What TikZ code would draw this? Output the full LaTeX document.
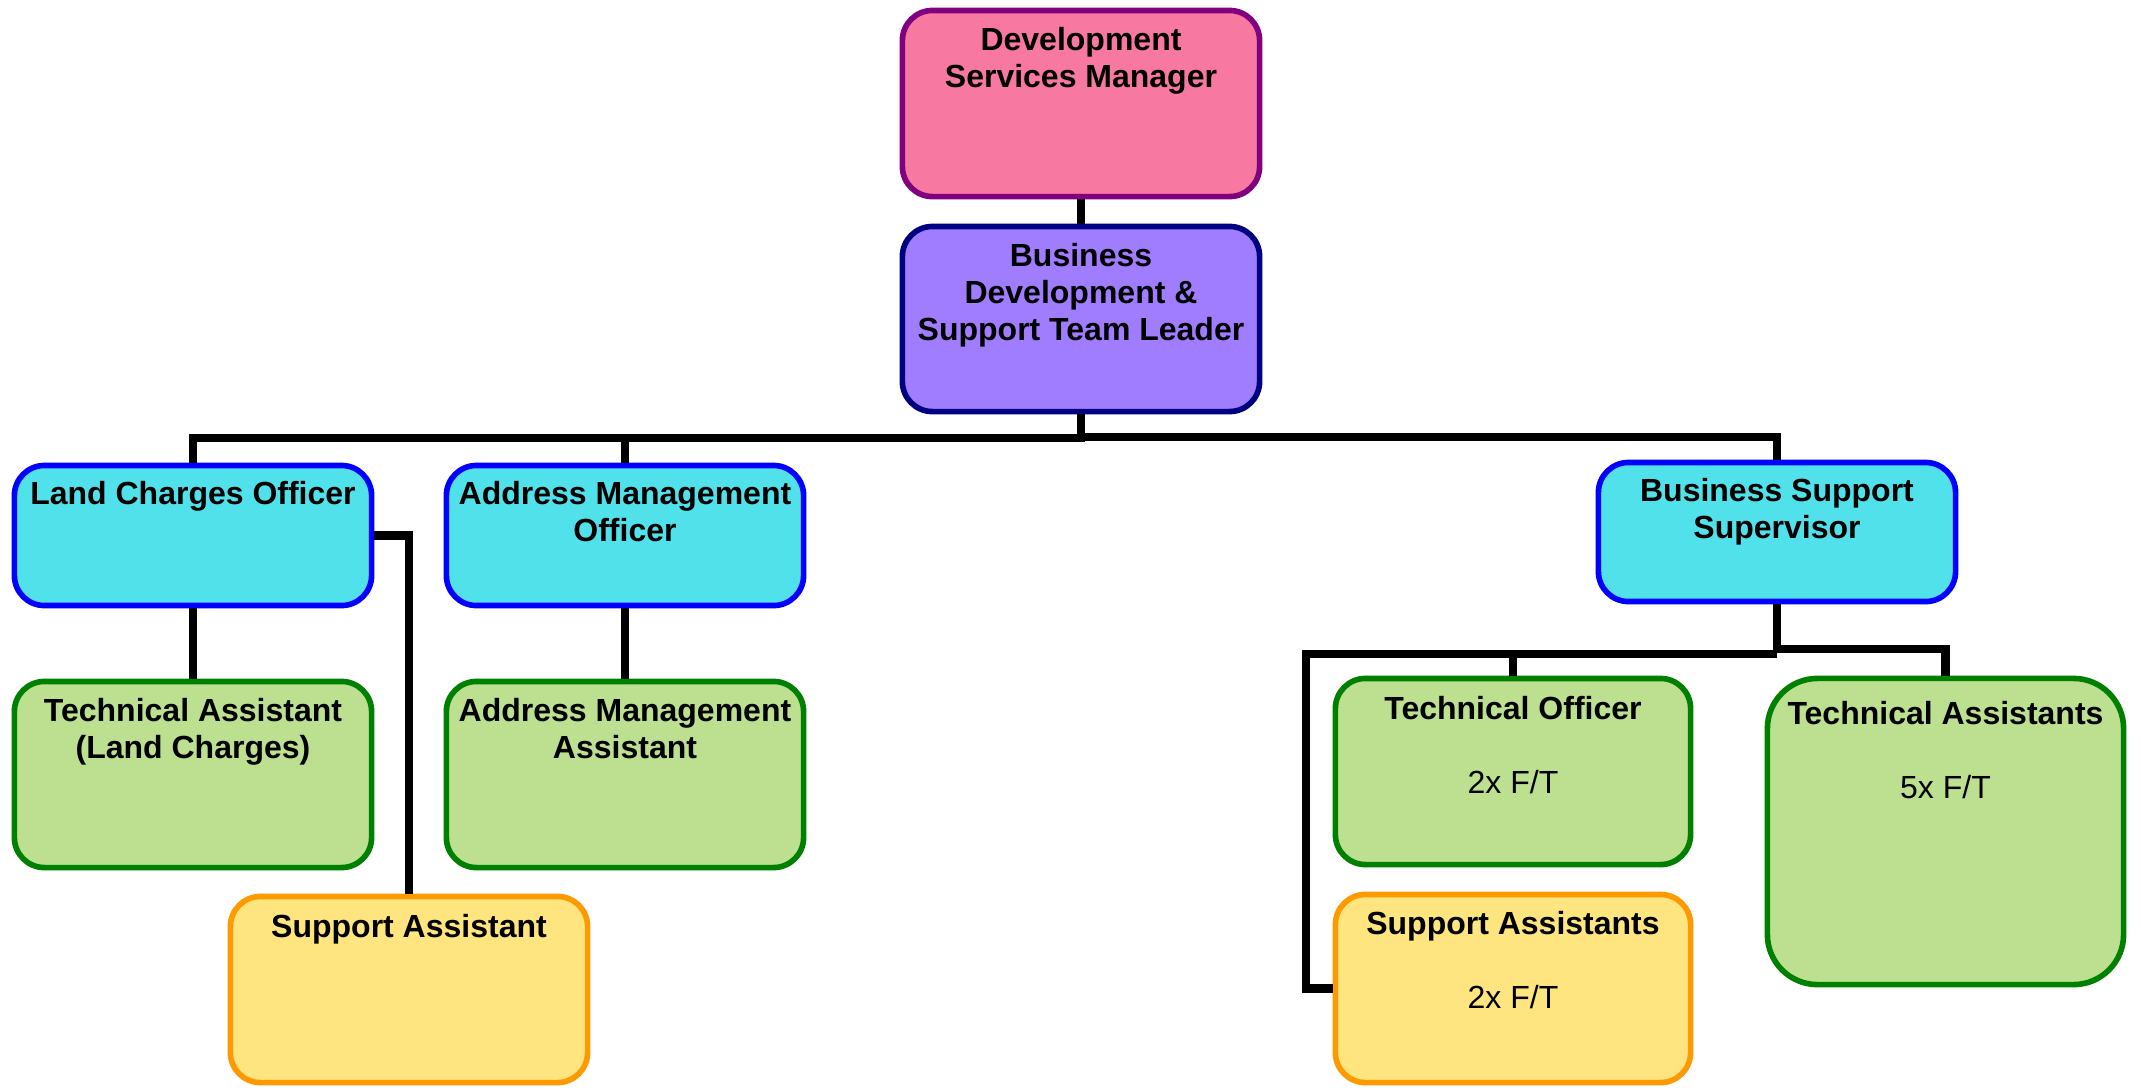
\documentclass[tikz,border=0pt]{standalone}
\usepackage{fontspec}
\setmainfont{Liberation Sans}

\definecolor{mgrfill}{HTML}{F778A1}
\definecolor{mgrline}{HTML}{800080}
\definecolor{leadfill}{HTML}{A07CFF}
\definecolor{leadline}{HTML}{000080}
\definecolor{offfill}{HTML}{50E1EB}
\definecolor{offline}{HTML}{0000FF}
\definecolor{techfill}{HTML}{BCDF90}
\definecolor{techline}{HTML}{008000}
\definecolor{suppfill}{HTML}{FFE57F}
\definecolor{suppline}{HTML}{FF9900}

\tikzset{
  post/.style={draw=#1line, fill=#1fill, line width=1.6pt, rounded corners=0.3cm,
    inner sep=0pt, minimum width=3.57cm},
  title/.style={anchor=north, align=center, inner sep=0pt,
    font=\fontsize{9.1}{10.45}\selectfont\bfseries},
  link/.style={line width=2.3pt},
}

\begin{document}
\begin{tikzpicture}[x=0.01cm, y=-0.01cm]
\useasboundingbox (0,0) rectangle (2141,1090);

\node[post=mgr, minimum height=1.86cm] (dsm) at (1081,103.5) {};
\node[title] (dsmT) at ([yshift=-0.19cm]dsm.north) {Development\\Services Manager};

\node[post=lead, minimum height=1.85cm] (bds) at (1081,319) {};
\node[title] (bdsT) at ([yshift=-0.19cm]bds.north) {Business\\Development \&\\Support Team Leader};

\node[post=off, minimum height=1.40cm] (lco) at (193,535.5) {};
\node[title] (lcoT) at ([yshift=-0.18cm]lco.north) {Land Charges Officer};

\node[post=off, minimum height=1.40cm] (amo) at (625,535.5) {};
\node[title] (amoT) at ([yshift=-0.18cm]amo.north) {Address Management\\Officer};

\node[post=off, minimum height=1.39cm] (bss) at (1777,532) {};
\node[title] (bssT) at ([yshift=-0.18cm]bss.north) {Business Support\\Supervisor};

\node[post=tech, minimum height=1.86cm] (talc) at (193,774.5) {};
\node[title] (talcT) at ([yshift=-0.19cm]talc.north) {Technical Assistant\\(Land Charges)};

\node[post=tech, minimum height=1.86cm] (ama) at (625,774.5) {};
\node[title] (amaT) at ([yshift=-0.19cm]ama.north) {Address Management\\Assistant};

\node[post=supp, minimum height=1.86cm] (sa) at (409,989.5) {};
\node[title] (saT) at ([yshift=-0.2cm]sa.north) {Support Assistant};

\node[post=tech, minimum height=1.86cm, minimum width=3.55cm] (to) at (1513,771.5) {};
\node[title] (toT) at ([yshift=-0.2cm]to.north) {Technical Officer\\[10.45pt]\mdseries 2x F/T};

\node[post=supp, minimum height=1.88cm, minimum width=3.55cm] (sas) at (1513,988.5) {};
\node[title] (sasT) at ([yshift=-0.19cm]sas.north) {Support Assistants\\[10.45pt]\mdseries 2x F/T};

\node[post=tech, minimum height=3.06cm, minimum width=3.56cm, rounded corners=0.5cm] (tas) at (1945.5,831.5) {};
\node[title] (tasT) at ([yshift=-0.25cm]tas.north) {Technical Assistants\\[10.45pt]\mdseries 5x F/T};

\draw[link] (dsm.south) -- (bds.north);
\draw[link] (bds.south) -- ++(0,24) -| (lco.north);
\draw[link] (bds.south) ++(0,24) -| (amo.north);
\draw[link] (bds.south) ++(0,23) -| (bss.north);

\draw[link] (lco.south) -- (talc.north);
\draw[link] (amo.south) -- (ama.north);
\draw[link] (lco.east) -| (sa.north);

\draw[link] (bss.south) -- ++(0,45) -| (tas.north);
\draw[link] (bss.south) ++(0,50) -| (to.north);
\draw[link] (bss.south) ++(0,50) -| ([xshift=-0.27cm]sas.west) -- (sas.west);
\end{tikzpicture}
\end{document}
